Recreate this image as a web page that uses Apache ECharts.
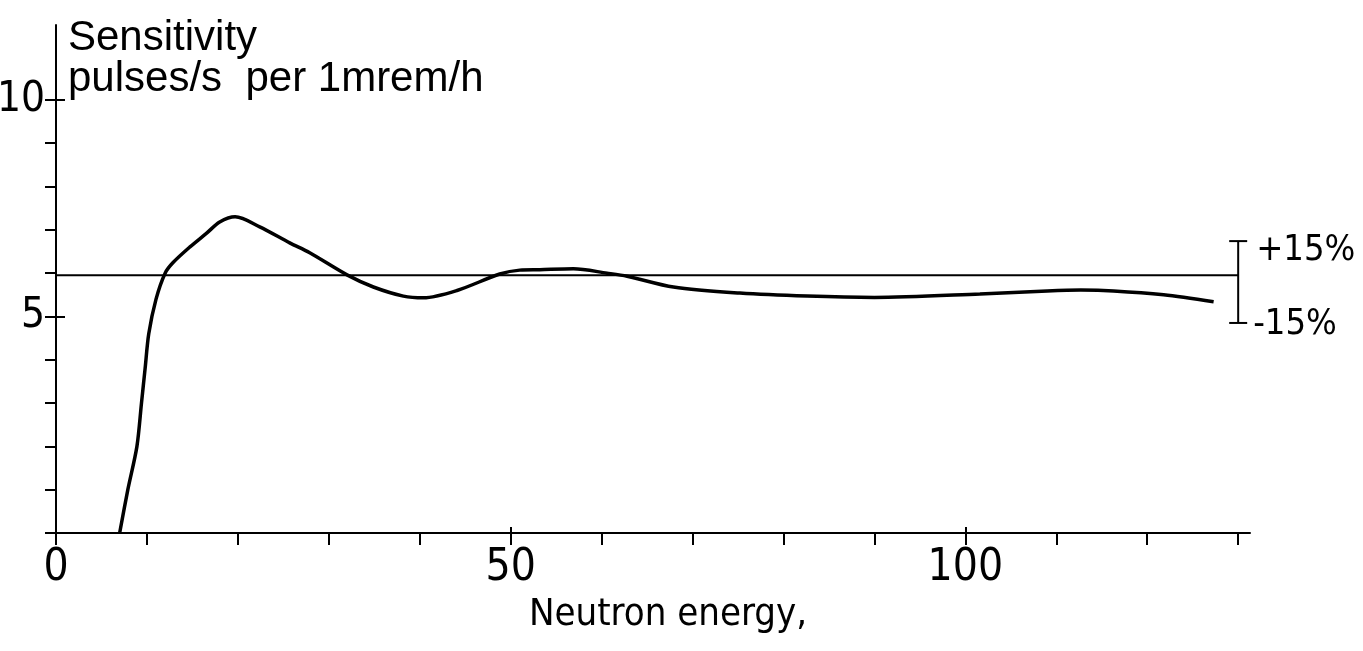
<!DOCTYPE html>
<html>
<head>
<meta charset="utf-8">
<script src="https://cdn.jsdelivr.net/npm/echarts@6/dist/echarts.min.js"></script>
<style>
html,body{margin:0;padding:0;background:#fff;}
#chart{width:1363px;height:651px;}
</style>
</head>
<body>
<div id="chart"></div>
<script>
// Neutron energy (x) and sensitivity, pulses/s per 1 mrem/h (y)
const energy = [7.0, 7.9, 8.9, 9.4, 9.8, 10.2, 11.0, 12.0, 12.9, 14.7, 16.6, 18.0, 19.7, 22.4, 25.7, 27.9, 32.0, 34.9, 38.2, 40.4, 44.1, 48.8, 51.0, 53.2, 56.9, 60.6, 62.8, 67.9, 75.2, 82.6, 90.0, 101.6, 109.0, 112.7, 116.3, 121.8, 127.3];
const sensitivity = [0, 1.0, 2.0, 3.0, 3.8, 4.6, 5.4, 6.0, 6.25, 6.6, 6.93, 7.18, 7.3, 7.07, 6.7, 6.47, 5.96, 5.68, 5.47, 5.43, 5.6, 5.98, 6.07, 6.08, 6.1, 6.0, 5.93, 5.68, 5.54, 5.47, 5.44, 5.52, 5.59, 5.61, 5.59, 5.5, 5.34];

// Reference (mean) level and +/-15 % band
const refRangeX = [0, 130];
const refLevel = 5.95;
const bandX = 130;
const bandHigh = 6.74;
const bandLow = 4.85;
const bandLabels = ['+15%', '-15%'];

// Axis ticks and labels
const xTicks = [0, 10, 20, 30, 40, 50, 60, 70, 80, 90, 100, 110, 120, 130];
const xLabels = [0, 50, 100];
const yTicks = [0, 1, 2, 3, 4, 5, 6, 7, 8, 9, 10];
const yLabels = [5, 10];

const NARROW = '"Liberation Sans Narrow", "DejaVu Sans Condensed", "Liberation Sans", sans-serif';
const SANS = '"Liberation Sans", Arial, sans-serif';

const chart = echarts.init(document.getElementById('chart'), null, {renderer: 'canvas'});

const curveData = energy.map((e, i) => [e, sensitivity[i]]);
const refData = refRangeX.map(x => [x, refLevel]);

const option = {
  backgroundColor: '#fff',
  animation: false,
  title: {
    text: 'Sensitivity\npulses/s  per 1mrem/h',
    left: 63,
    top: 13,
    textStyle: {fontFamily: SANS, fontSize: 42, fontWeight: 'normal', color: '#000', lineHeight: 41}
  },
  grid: {left: 56, right: 113, top: 25, bottom: 118, containLabel: false, outerBoundsMode: 'none'},
  xAxis: [{
    type: 'value', min: 0, max: 131.3, position: 'bottom',
    axisLine: {show: true, onZero: false, lineStyle: {color: '#000', width: 2}},
    axisTick: {show: true, customValues: xTicks, length: 12, lineStyle: {color: '#000', width: 2}},
    axisLabel: {show: true, customValues: xLabels, fontFamily: NARROW, fontSize: 44, color: '#000', margin: 14},
    splitLine: {show: false},
    name: 'Neutron energy,', nameLocation: 'middle', nameGap: 63,
    nameTextStyle: {fontFamily: NARROW, fontSize: 38, color: '#000', padding: [0, 0, 0, 30]}
  }, {
    type: 'value', min: 0, max: 131.3, position: 'bottom',
    axisLine: {show: false},
    axisTick: {show: true, inside: true, customValues: xLabels, length: 6, lineStyle: {color: '#000', width: 2}},
    axisLabel: {show: false}, splitLine: {show: false}
  }],
  yAxis: [{
    type: 'value', min: 0, max: 11.73, position: 'left',
    axisLine: {show: true, onZero: false, lineStyle: {color: '#000', width: 2}},
    axisTick: {show: true, customValues: yTicks, length: 11, lineStyle: {color: '#000', width: 2}},
    axisLabel: {show: true, customValues: yLabels, fontFamily: NARROW, fontSize: 42, color: '#000', margin: 11},
    splitLine: {show: false}
  }, {
    type: 'value', min: 0, max: 11.73, position: 'left',
    axisLine: {show: false},
    axisTick: {show: true, inside: true, customValues: yLabels, length: 9, lineStyle: {color: '#000', width: 2}},
    axisLabel: {show: false}, splitLine: {show: false}
  }],
  series: [{
    type: 'line', name: 'reference', data: refData, showSymbol: false, symbol: 'none',
    lineStyle: {color: '#000', width: 2}, silent: true
  }, {
    type: 'line', name: 'sensitivity', data: curveData, showSymbol: false, symbol: 'none',
    smooth: 0.3,
    lineStyle: {color: '#000', width: 3.5}, silent: true
  }, {
    type: 'custom', name: 'band', silent: true,
    data: [[bandX, bandLow, bandHigh]],
    renderItem: function (params, api) {
      const top = api.coord([api.value(0), api.value(2)]);
      const bot = api.coord([api.value(0), api.value(1)]);
      const cap = 9;
      const ls = {stroke: '#000', lineWidth: 2};
      return {
        type: 'group',
        children: [
          {type: 'line', shape: {x1: top[0], y1: top[1], x2: bot[0], y2: bot[1]}, style: ls},
          {type: 'line', shape: {x1: top[0] - cap, y1: top[1], x2: top[0] + cap, y2: top[1]}, style: ls},
          {type: 'line', shape: {x1: bot[0] - cap, y1: bot[1], x2: bot[0] + cap, y2: bot[1]}, style: ls},
          {type: 'text', x: top[0] + 18, y: top[1] + 10, style: {text: bandLabels[0], fontFamily: NARROW, fontSize: 36, fill: '#000', align: 'left', verticalAlign: 'middle'}},
          {type: 'text', x: bot[0] + 15, y: bot[1] + 2, style: {text: bandLabels[1], fontFamily: NARROW, fontSize: 36, fill: '#000', align: 'left', verticalAlign: 'middle'}}
        ]
      };
    }
  }]
};
chart.setOption(option);
</script>
</body>
</html>
